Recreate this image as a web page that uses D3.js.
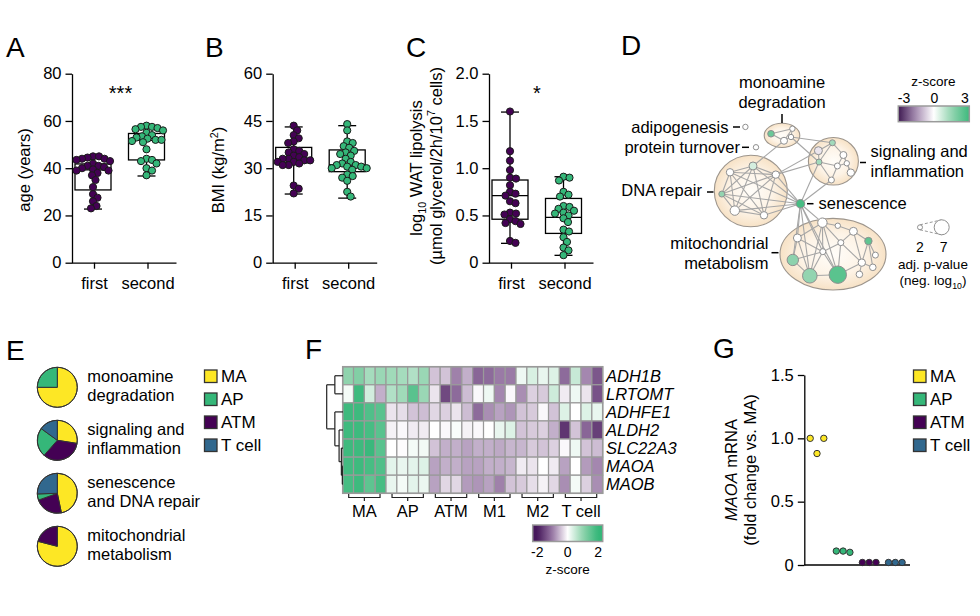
<!DOCTYPE html>
<html><head><meta charset="utf-8">
<script src="https://cdn.jsdelivr.net/npm/d3@7"></script>
<style>
body{margin:0;background:#fff}
svg{display:block}
text{font-family:Arial,"Liberation Sans",sans-serif;fill:#000}
</style>
</head><body>
<svg id="fig" width="980" height="616"></svg>
<script>
// ---------------- DATA ----------------
const groups = ["first", "second"];
const ageFirst  = [45,45,44.5,44,44,43.5,43,42,41,41,40.5,40,39.5,39,39,38,37,35,32,29,27.5,26,24,23];
const ageSecond = [58,57.5,57.5,57,56.5,56,55,54,53.5,53,52.5,52,52,51.5,51,48,44,43.5,43,42,40,39,37];
const ageBox = [{lo:22.7,q1:30.8,med:39.3,q3:41.8,hi:45},{lo:36.7,q1:43.5,med:51.8,q3:54.7,hi:58}];
const ageTicks = [0,20,40,60,80];

const bmiFirst  = [43.5,42,40.5,39.5,38.5,38,36,35.5,35,34.5,34,33.5,33,33,32.5,32.5,32,32,31.5,31,31,24.5,23.5,22];
const bmiSecond = [44,42,38.5,38,37,36.5,35.5,35,34.5,34,33,32,31.5,31,31,30.5,30.5,30,30,29.5,28,27.5,27,26,22.5,21];
const bmiBox = [{lo:21.8,q1:31.7,med:33,q3:36.6,hi:43.1},{lo:20.5,q1:28.9,med:31.1,q3:35.8,hi:43.5}];
const bmiTicks = [0,15,30,45,60];

const lipFirst  = [1.6,1.18,1.08,0.98,0.9,0.89,0.82,0.75,0.73,0.71,0.65,0.63,0.53,0.52,0.51,0.46,0.44,0.42,0.41,0.23,0.21];
const lipSecond = [0.91,0.9,0.87,0.75,0.72,0.7,0.6,0.59,0.57,0.55,0.53,0.52,0.5,0.47,0.43,0.35,0.33,0.27,0.22,0.16,0.13,0.08];
const lipBox = [{lo:0.205,q1:0.46,med:0.71,q3:0.875,hi:1.594},{lo:0.078,q1:0.31,med:0.48,q3:0.68,hi:0.91}];
const lipTicks = [0,0.5,1.0,1.5,2.0];

// network (panel D): layout units 0-100
const clusters = [
  // name, cx, cy, rx, ry
  ["monoamine", 41, 14.1, 8.9, 6.7],
  ["signaling", 66.7, 28.5, 12.5, 13.2],
  ["dna", 25.4, 45, 18.25, 19.9],
  ["mito", 66.5, 80.1, 26.5, 19.9]
];
const nodes = [
  // id, x, y, -log10 p, z
  ["m1",35.5,13.2,2.8,2.2],["m2",46.2,10.4,2.2,0],["m3",42,17.1,3,0],["m4",45.5,15,2.2,0],
  ["s1",59.2,22.6,3.5,-0.35],["s2",66.2,18.2,2.5,1.3],["s3",71.7,25,3,0],["s4",59.5,28.9,2.5,1.3],
  ["s5",68.7,31.1,2.5,0],["s6",73.4,29.6,2.2,0],["s7",75.4,34.8,3.2,0],["s8",65.7,38.9,2.5,0],
  ["d1",26.5,31.1,3.5,0.6],["d2",15,34.6,3.2,0],["d3",37.9,35.9,3.2,0],["d4",10.9,46.7,2.5,1.5],
  ["d5",17.4,55.9,4.2,0],["d6",32,58.5,3.2,0],
  ["sen",50.2,52.1,3.8,2.8],
  ["t1",61.2,62.6,4.2,0],["t2",68.9,64.3,2.2,0],["t3",48.7,71.1,3.5,0],["t4",76.7,67.4,3.5,0],
  ["t5",84.2,72.8,3.2,2.4],["t6",70.4,73.7,2.5,0],["t7",61.4,78.7,2.5,0],["t8",87.7,80.6,2.5,0],
  ["t9",46.4,83.3,5.2,1.6],["t10",80.9,84.8,3.2,0],["t11",86.4,87.4,2.8,0],["t12",79.7,91.3,2.8,0],
  ["t13",54.9,92.1,6.8,1.5],["t14",68.9,91.5,8.2,2.5],
  ["adipo",22.7,9.4,2.2,0],["prot",28,20.7,2.2,0]
];
const edges = [
  ["m1","m2"],["m1","m3"],["m2","m3"],["m2","m4"],["m3","m4"],["m3","d1"],["m4","s4"],["m4","s2"],
  ["d1","d2"],["d1","d3"],["d1","d4"],["d1","d5"],["d1","d6"],["d2","d3"],["d2","d4"],["d2","d5"],
  ["d2","d6"],["d3","d4"],["d3","d5"],["d3","d6"],["d4","d5"],["d4","d6"],["d5","d6"],
  ["d1","sen"],["d2","sen"],["d3","sen"],["d4","sen"],["d5","sen"],["d6","sen"],
  ["d3","s1"],["d3","s4"],
  ["s1","s2"],["s1","s4"],["s2","s3"],["s2","s4"],["s3","s5"],["s3","s6"],["s4","s5"],["s5","s6"],
  ["s6","s7"],["s5","s8"],["s4","s8"],["s3","s7"],
  ["s4","sen"],["s8","sen"],
  ["sen","t1"],["sen","t3"],["sen","t9"],["sen","t13"],["sen","t14"],["sen","t7"],
  ["t1","t3"],["t1","t6"],["t1","t7"],["t1","t13"],["t1","t14"],["t1","t2"],["t3","t7"],["t3","t9"],
  ["t3","t13"],["t4","t6"],["t4","t5"],["t4","t10"],["t5","t10"],["t5","t8"],["t6","t7"],["t6","t10"],
  ["t7","t9"],["t7","t13"],["t7","t14"],["t9","t13"],["t13","t14"],["t6","t14"],["t10","t12"],
  ["t10","t11"],["t5","t11"],["t2","t4"],["t10","t14"]
];

// pies (panel E): order of slices MA, ATM, AP, T cell
const pieLabels = [["monoamine","degradation"],["signaling and","inflammation"],["senescence","and DNA repair"],["mitochondrial","metabolism"]];
const pieOrder = ["MA","ATM","AP","T cell"];
const pieMono = [0.75, 0, 0.25, 0];
const pieSignal = [0.275, 0.34, 0.235, 0.15];
const pieSenes = [0.467, 0.228, 0.05, 0.255];
const pieMito = [0.79, 0.21, 0, 0];
const cellTypes = ["MA","AP","ATM","T cell"];
const cellColors = ["#fde725","#35b779","#440154","#31688e"];

// heatmap (panel F)
const genes = ["ADH1B","LRTOMT","ADHFE1","ALDH2","SLC22A3","MAOA","MAOB"];
const hmGroups = ["MA","AP","ATM","M1","M2","T cell"];
const zADH1B  = [1.0,1.15,0.8,0.9, 0.85,0.8,0.7,0.9, -0.45,-0.45,-0.95,-0.6, -1.2,-1.15,-1.0,-1.0, 0.15,0.35,0.2,0.3, -1.15,0.5,-0.9,-1.35];
const zLRTOMT = [0.1,1.9,0.4,-0.6, 0.7,0.85,1.6,0.9, -0.2,-1.5,-1.15,-0.5, -0.05,0.15,-0.9,-0.05, -0.85,-0.35,-0.4,0.45, -0.15,0.15,-0.2,-1.4];
const zADHFE1 = [1.9,1.9,1.7,1.6, -0.2,-0.25,-0.45,-0.5, -0.3,-0.35,-0.2,-0.5, -1.15,-0.85,-0.7,-0.8, -0.45,-0.4,-0.05,-0.45, 0.3,0,0.3,0.2];
const zALDH2  = [1.9,1.9,1.8,1.6, -0.1,-0.05,-0.15,-0.15, 0,-0.05,0.05,-0.1, -0.05,0,0.2,0.3, -0.45,-0.4,-0.35,-0.6, -1.7,-0.45,-1.2,-1.6];
const zSLC22A3= [1.9,1.9,1.95,1.6, 0,-0.02,0.1,0.12, -0.45,-0.6,-0.6,-0.7, -0.6,-0.6,-0.65,-0.55, -0.55,-0.4,-0.45,-0.35, -0.05,0.15,-0.45,-0.5];
const zMAOA   = [1.85,1.9,1.8,1.7, 0.25,0.2,0.25,0.3, -0.7,-0.6,-0.6,-0.7, -0.7,-0.6,-0.6,-0.55, -0.15,-0.2,0,-0.15, -0.7,0,-0.75,-0.9];
const zMAOB   = [1.8,1.9,1.55,1.8, 0.2,0.1,0.25,0.18, -0.7,-0.3,-0.3,-0.75, -0.8,-0.7,-0.95,-0.45, -0.4,-0.25,-0.1,-0.3, -0.85,0.1,-0.35,-0.85];
const hmValues = [zADH1B,zLRTOMT,zADHFE1,zALDH2,zSLC22A3,zMAOA,zMAOB];
// dendrogram merge heights
const dendro = {h:1.0, children:[
  {h:0.5, children:[{leaf:0},{leaf:1}]},
  {h:0.5, children:[{leaf:2},{h:0.24, children:[{leaf:3},{h:0.1, children:[{leaf:4},{h:0.04, children:[{leaf:5},{leaf:6}]}]}]}]}
]};

// qPCR (panel G)
const maoaMA = [1.0, 0.88, 1.0];
const maoaAP = [0.11, 0.11, 0.10];
const maoaATM = [0.02, 0.02, 0.02];
const maoaT = [0.02, 0.02, 0.02];
const maoaTicks = [0, 0.5, 1.0, 1.5];

// ---------------- DRAWING ----------------
const svg = d3.select("#fig");
const FS = 16.5;
const PURPLE = "#440154", GREEN = "#35b779";

function txt(g, x, y, s, opt={}) {
  const t = g.append("text").attr("x", x).attr("y", y).attr("font-size", opt.fs || FS)
    .attr("text-anchor", opt.anchor || "start");
  if (opt.dy) t.attr("dy", opt.dy);
  if (opt.italic) t.style("font-style","italic");
  t.text(s);
  return t;
}
function richText(g, parts, fs) {
  const t = g.append("text").attr("font-size", fs);
  let shift = 0;
  parts.forEach(p => {
    const ts = t.append("tspan").text(p.t);
    let target = p.sub ? 4.5 : p.sup ? -6.5 : 0;
    if (target !== shift) { ts.attr("dy", target - shift); shift = target; }
    if (p.sub || p.sup) ts.attr("font-size", fs*0.65);
    if (p.italic) ts.style("font-style","italic");
  });
  return t;
}
function rotLabel(x, y, parts, fs=FS) {
  const g = svg.append("g").attr("transform", `translate(${x},${y}) rotate(-90)`);
  return richText(g, parts, fs).attr("text-anchor","middle").attr("y", fs*0.35);
}

[["A",6,57],["B",205,57],["C",406,57],["D",621,55],["E",6,360],["F",305,359],["G",713,358]]
  .forEach(([l,x,y]) => txt(svg, x, y, l, {fs:28}));

function styleAxis(g) {
  g.attr("font-size", FS).attr("font-family", 'Arial,"Liberation Sans",sans-serif');
  g.selectAll("path,line").attr("stroke","#000").attr("stroke-width",1.3);
  g.selectAll("text").attr("fill","#000");
}

function swarm(values, y, d) {
  const order = values.map((v,i)=>i).sort((a,b)=>values[b]-values[a]);
  const placed = [], xs = new Array(values.length);
  order.forEach(i => {
    const yi = y(values[i]);
    let best = 0;
    for (let k = 0; k < 400; k++) {
      const off = (k % 2 ? 1 : -1) * Math.ceil(k/2) * 0.5;
      if (placed.every(p => (p.x-off)**2 + (p.y-yi)**2 >= d*d)) { best = off; break; }
    }
    placed.push({x:best, y:yi}); xs[i] = best;
  });
  return xs;
}

function boxPanel(cfg) {
  const g = svg.append("g");
  const y = d3.scaleLinear().domain([cfg.ticks[0], cfg.ticks[cfg.ticks.length-1]]).range([262.7, 73.7]);
  const x = d3.scalePoint().domain(groups).range([cfg.ax+22, cfg.ax+75.5]);
  const ya = d3.axisLeft(y).tickValues(cfg.ticks).tickSize(6.5).tickPadding(4).tickSizeOuter(0).tickFormat(cfg.fmt);
  const yg = g.append("g").attr("transform", `translate(${cfg.ax},0)`).call(ya);
  styleAxis(yg);
  const xa = d3.axisBottom(x).tickSize(6).tickPadding(5).tickSizeOuter(0);
  const xg = g.append("g").attr("transform", `translate(0,262.7)`).call(xa);
  xg.select(".domain").attr("d", `M${cfg.ax},0.5H${cfg.ax+104.5}`);
  styleAxis(xg);
  xg.selectAll("text").attr("dy","0.9em");
  const sets = [cfg.first, cfg.second], cols = [PURPLE, GREEN];
  cfg.box.forEach((b, i) => {
    const cx = x(groups[i]) - 1;
    const bg = g.append("g").attr("stroke","#000").attr("stroke-width",1.3).attr("fill","none");
    bg.append("line").attr("x1",cx).attr("x2",cx).attr("y1",y(b.hi)).attr("y2",y(b.lo));
    bg.append("line").attr("x1",cx-9).attr("x2",cx+9).attr("y1",y(b.hi)).attr("y2",y(b.hi));
    bg.append("line").attr("x1",cx-9).attr("x2",cx+9).attr("y1",y(b.lo)).attr("y2",y(b.lo));
    bg.append("rect").attr("x",cx-18).attr("width",36).attr("y",y(b.q3)).attr("height",y(b.q1)-y(b.q3)).attr("fill","#fff");
    bg.append("line").attr("x1",cx-18).attr("x2",cx+18).attr("y1",y(b.med)).attr("y2",y(b.med));
    const vals = sets[i];
    const offs = swarm(vals, y, 5.6);
    g.append("g").selectAll("circle").data(vals).join("circle")
      .attr("cx", (d,j) => cx + offs[j]).attr("cy", d => y(d)).attr("r", 3.6)
      .attr("fill", cols[i]).attr("stroke", "#1a1a1a").attr("stroke-width", 1);
  });
  return {g, x, y};
}

// Panel A
boxPanel({ax:72, ticks:ageTicks, fmt:d3.format("d"), first:ageFirst, second:ageSecond, box:ageBox});
rotLabel(24, 170, [{t:"age (years)"}]);
txt(svg, 120.5, 100, "***", {anchor:"middle", fs:20});

// Panel B
boxPanel({ax:272.7, ticks:bmiTicks, fmt:d3.format("d"), first:bmiFirst, second:bmiSecond, box:bmiBox});
rotLabel(218.5, 170, [{t:"BMI (kg/m"},{t:"2",sup:true},{t:")"}]);

// Panel C
boxPanel({ax:489, ticks:lipTicks, fmt:d => d===0 ? "0" : d3.format(".1f")(d), first:lipFirst, second:lipSecond, box:lipBox});
rotLabel(416, 168, [{t:"log"},{t:"10",sub:true},{t:" WAT lipolysis"}]);
rotLabel(436, 166, [{t:"(µmol glycerol/2h/10"},{t:"7",sup:true},{t:" cells)"}]);
txt(svg, 537, 100, "*", {anchor:"middle", fs:20});

// ---------------- Panel D (network) ----------------
const nx = d3.scaleLinear().domain([0,100]).range([700,900]);
const ny = d3.scaleLinear().domain([0,100]).range([110,290]);
const nr = d3.scaleLinear().domain([2,7]).range([2.5,7.5]);
const zNet = d3.scaleLinear().domain([-3,-1.5,0,1.5,3]).range(["#3f1a52","#a88fb3","#ffffff","#93d4b0","#3dba7d"]).clamp(true);
const defs = svg.append("defs");
const rg = defs.append("radialGradient").attr("id","clusterFill");
rg.append("stop").attr("offset","0").attr("stop-color","#fffdf9");
rg.append("stop").attr("offset","0.6").attr("stop-color","#fdf3e6");
rg.append("stop").attr("offset","1").attr("stop-color","#f7e2c6");
const gD = svg.append("g");
gD.selectAll("ellipse").data(clusters).join("ellipse")
  .attr("cx", d => nx(d[1])).attr("cy", d => ny(d[2]))
  .attr("rx", d => nx(d[1]+d[3]) - nx(d[1])).attr("ry", d => ny(d[2]+d[4]) - ny(d[2]))
  .attr("fill","url(#clusterFill)").attr("stroke","#9d958c").attr("stroke-width",1.1);
const nodeById = new Map(nodes.map(n => [n[0], n]));
gD.append("g").selectAll("line").data(edges).join("line")
  .attr("x1", d => nx(nodeById.get(d[0])[1])).attr("y1", d => ny(nodeById.get(d[0])[2]))
  .attr("x2", d => nx(nodeById.get(d[1])[1])).attr("y2", d => ny(nodeById.get(d[1])[2]))
  .attr("stroke","#a6a6a6").attr("stroke-width",1.1);
gD.append("g").selectAll("circle").data(nodes).join("circle")
  .attr("cx", d => nx(d[1])).attr("cy", d => ny(d[2])).attr("r", d => nr(d[3]))
  .attr("fill", d => zNet(d[4])).attr("stroke","#8f8f8f").attr("stroke-width",1);

const dl = gD.append("g");
function dash(x1,y1,x2,y2){ dl.append("line").attr("x1",x1).attr("y1",y1).attr("x2",x2).attr("y2",y2).attr("stroke","#000").attr("stroke-width",1.5); }
txt(dl, 782, 82.7, "monoamine", {anchor:"middle", dy:"0.35em"});
txt(dl, 782, 102.7, "degradation", {anchor:"middle", dy:"0.35em"});
dash(782,114,782,123);
txt(dl, 728.5, 127, "adipogenesis", {anchor:"end", dy:"0.35em"});
dash(733,127,740,127);
txt(dl, 740, 147.3, "protein turnover", {anchor:"end", dy:"0.35em"});
dash(742,147.3,749,147.3);
txt(dl, 870.5, 151.7, "signaling and", {dy:"0.35em"});
txt(dl, 870.5, 171.7, "inflammation", {dy:"0.35em"});
dash(860,162.5,866,162.5);
txt(dl, 702, 190, "DNA repair", {anchor:"end", dy:"0.35em"});
dash(707,192,713.5,192);
txt(dl, 818.5, 203.7, "senescence", {dy:"0.35em"});
dash(807,203.7,813.5,203.7);
txt(dl, 768.5, 243.3, "mitochondrial", {anchor:"end", dy:"0.35em"});
txt(dl, 768.5, 263.3, "metabolism", {anchor:"end", dy:"0.35em"});
dash(771.5,252.7,778.5,252.7);

const gradD = defs.append("linearGradient").attr("id","zD");
d3.range(0,1.0001,0.1).forEach(t => gradD.append("stop").attr("offset", t).attr("stop-color", zNet(-3 + 6*t)));
txt(dl, 933.5, 81.7, "z-score", {anchor:"middle", dy:"0.35em", fs:13.5});
const zDx = d3.scaleLinear().domain([-3,3]).range([904,965]);
[-3,0,3].forEach(v => txt(dl, zDx(v), 97.7, String(v), {anchor:"middle", dy:"0.35em", fs:14}));
dl.append("rect").attr("x",898.3).attr("y",106).attr("width",71).attr("height",15.7).attr("fill","url(#zD)").attr("stroke","#9a9a9a").attr("stroke-width",1.5);
const sl = [[2,920],[7,941.7]];
dl.append("line").attr("x1",920).attr("y1",227.3-nr(2)).attr("x2",941.7).attr("y2",227.3-nr(7)).attr("stroke","#999").attr("stroke-dasharray","3,2");
dl.append("line").attr("x1",920).attr("y1",227.3+nr(2)).attr("x2",941.7).attr("y2",227.3+nr(7)).attr("stroke","#999").attr("stroke-dasharray","3,2");
sl.forEach(([p,x]) => {
  dl.append("circle").attr("cx",x).attr("cy",227.3).attr("r",nr(p)).attr("fill","#fff").attr("stroke","#8f8f8f");
  txt(dl, x + (p===7?2:0), 246.7, String(p), {anchor:"middle", dy:"0.35em", fs:14});
});
txt(dl, 933, 264, "adj. p-value", {anchor:"middle", dy:"0.35em", fs:13.5});
richText(dl, [{t:"(neg. log"},{t:"10",sub:true},{t:")"}], 13.5).attr("text-anchor","middle").attr("x",933).attr("y",280.7).attr("dy","0.3em");

// ---------------- Panel E (pies) ----------------
const gE = svg.append("g");
const pieColor = d3.scaleOrdinal().domain(cellTypes).range(cellColors);
const pie = d3.pie().sort(null);
const arc = d3.arc().innerRadius(0).outerRadius(20);
const pieSets = [pieMono, pieSignal, pieSenes, pieMito];
const pieY = d3.scalePoint().domain(d3.range(4)).range([387.3, 546.3]);
pieSets.forEach((vals, i) => {
  const pg = gE.append("g").attr("transform", `translate(57.3,${pieY(i)})`);
  pg.selectAll("path").data(pie(vals)).join("path")
    .attr("d", arc).attr("fill", (d,j) => pieColor(pieOrder[j]))
    .attr("stroke","#333").attr("stroke-width", d => d.data > 0 ? 1 : 0);
  pg.append("circle").attr("r",20).attr("fill","none").attr("stroke","#333").attr("stroke-width",1);
  txt(gE, 87.3, pieY(i) - 5.6, pieLabels[i][0]);
  txt(gE, 87.3, pieY(i) + 13.8, pieLabels[i][1]);
});
const legY = d3.scalePoint().domain(cellTypes).range([376, 445]);
function legend(g, x, yS) {
  cellTypes.forEach((c) => {
    g.append("rect").attr("x", x).attr("y", yS(c) - 6).attr("width", 12.5).attr("height", 12.5)
      .attr("fill", pieColor(c)).attr("stroke","#333").attr("stroke-width",1.3);
    txt(g, x + 16.5, yS(c) + 6.3, c, {fs:17});
  });
}
legend(gE, 204.5, legY);

// ---------------- Panel F (heatmap) ----------------
const gF = svg.append("g");
const hx = d3.scaleBand().domain(d3.range(24)).range([342.7, 602.7]);
const hy = d3.scaleBand().domain(genes).range([366.7, 493.3]);
const hmColor = d3.scaleLinear().domain([-2,-1,0,1,2]).range(["#45175a","#9a7aa6","#ffffff","#8fd3ad","#35b779"]).clamp(true);
genes.forEach((gname, r) => {
  gF.append("g").selectAll("rect").data(hmValues[r]).join("rect")
    .attr("x", (d,c) => hx(c)).attr("y", hy(gname)).attr("width", hx.bandwidth()).attr("height", hy.bandwidth())
    .attr("fill", d => hmColor(d)).attr("stroke","#9a9a9a").attr("stroke-width",1.2);
  txt(gF, 606, hy(gname) + hy.bandwidth()/2, gname, {dy:"0.35em", italic:true});
});
gF.append("rect").attr("x",342.7).attr("y",366.7).attr("width",260).attr("height",126.6).attr("fill","none").attr("stroke","#9a9a9a").attr("stroke-width",1.5);
hmGroups.forEach((grp, k) => {
  const x0 = hx(k*4) + 6, x1 = hx(k*4+3) + hx.bandwidth() - 6, xm = (x0 + x1)/2;
  gF.append("path").attr("d", `M${x0},494V497.5H${x1}V494M${xm},497.5V501`).attr("fill","none").attr("stroke","#222").attr("stroke-width",1.2);
  txt(gF, xm, 517, grp, {anchor:"middle"});
});
const root = d3.hierarchy(dendro);
const dx = d3.scaleLinear().domain([0,1]).range([343, 326.7]);
root.eachAfter(n => {
  if (n.data.leaf !== undefined) { n.py = hy(genes[n.data.leaf]) + hy.bandwidth()/2; n.px = dx(0); }
  else { n.py = d3.mean(n.children, c => c.py); n.px = dx(n.data.h); }
});
root.each(n => {
  if (!n.children) return;
  const ys = n.children.map(c => c.py);
  gF.append("line").attr("x1",n.px).attr("x2",n.px).attr("y1",d3.min(ys)).attr("y2",d3.max(ys)).attr("stroke","#222").attr("stroke-width",1.2);
  n.children.forEach(c => gF.append("line").attr("x1",n.px).attr("x2",c.px).attr("y1",c.py).attr("y2",c.py).attr("stroke","#222").attr("stroke-width",1.2));
});
const gradF = defs.append("linearGradient").attr("id","zF");
d3.range(0,1.0001,0.05).forEach(t => gradF.append("stop").attr("offset", t).attr("stop-color", hmColor(-2.3 + 4.6*t)));
gF.append("rect").attr("x",532.7).attr("y",525).attr("width",70).attr("height",16.5).attr("fill","url(#zF)").attr("stroke","#9a9a9a").attr("stroke-width",1.5);
const cbx = d3.scaleLinear().domain([-2.3,2.3]).range([532.7,602.7]);
[-2,0,2].forEach(v => txt(gF, cbx(v), 552, String(v), {anchor:"middle", dy:"0.35em", fs:14}));
txt(gF, 567.7, 569, "z-score", {anchor:"middle", dy:"0.35em", fs:13.5});

// ---------------- Panel G ----------------
const gG = svg.append("g");
const gy = d3.scaleLinear().domain([0,1.5]).range([565,375]);
const gx = d3.scalePoint().domain(cellTypes).range([817, 895.3]);
const rep = d3.scalePoint().domain([0,1,2]).range([-6.8, 6.8]);
const yaG = d3.axisLeft(gy).tickValues(maoaTicks).tickSize(6.5).tickPadding(4).tickSizeOuter(0).tickFormat(d => d===0 ? "0" : d3.format(".1f")(d));
const ygG = gG.append("g").attr("transform","translate(804.3,0)").call(yaG);
styleAxis(ygG);
gG.append("line").attr("x1",804.3).attr("x2",910).attr("y1",565).attr("y2",565).attr("stroke","#000").attr("stroke-width",1.3);
const maoaSets = [maoaMA, maoaAP, maoaATM, maoaT];
cellTypes.forEach((c, i) => {
  gG.append("g").selectAll("circle").data(maoaSets[i]).join("circle")
    .attr("cx", (d,j) => gx(c) + rep(j)).attr("cy", d => gy(d)).attr("r", 3.2)
    .attr("fill", pieColor(c)).attr("stroke","#333").attr("stroke-width",1);
});
rotLabel(731.5, 470, [{t:"MAOA",italic:true},{t:" mRNA"}]);
rotLabel(750, 470, [{t:"(fold change vs. MA)"}]);
legend(gG, 913.5, legY);
</script>
</body></html>
